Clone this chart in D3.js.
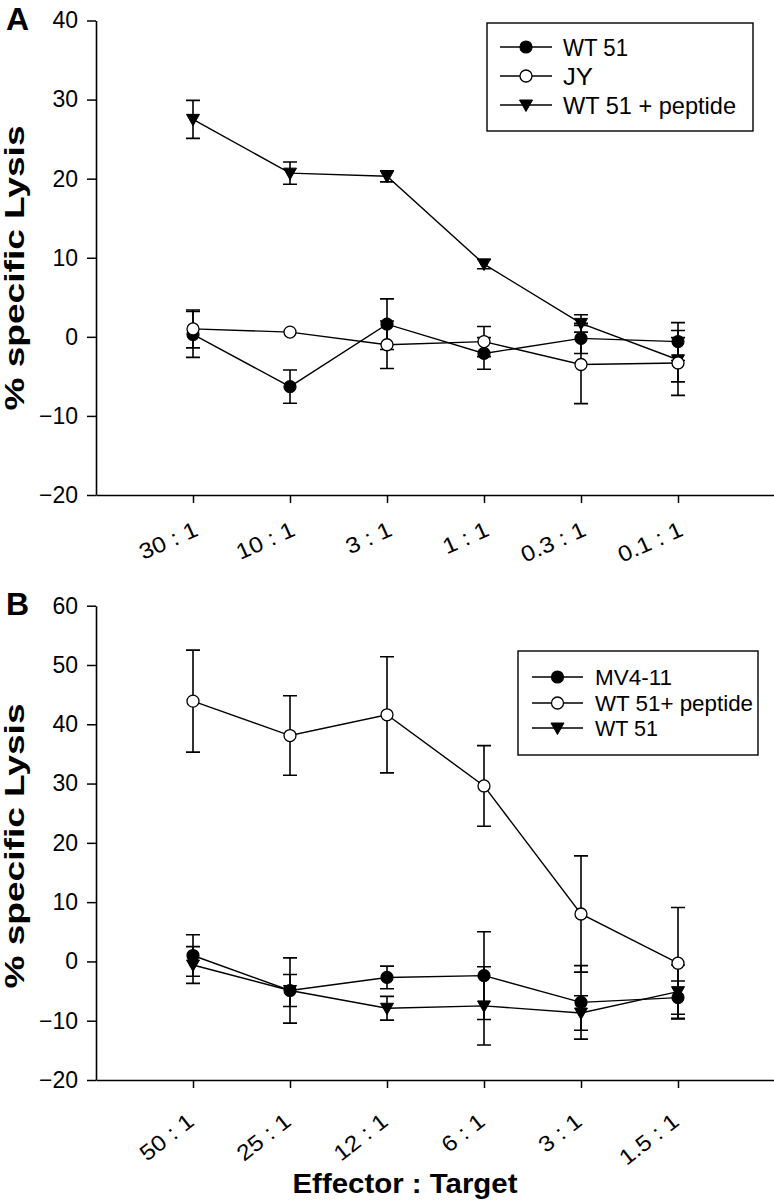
<!DOCTYPE html>
<html><head><meta charset="utf-8">
<script src="https://cdn.jsdelivr.net/npm/d3@7"></script>
<style>body{margin:0;background:#fff}svg{display:block;font-family:"Liberation Sans",Arial,sans-serif}</style>
</head><body>
<script>
// ---- Data ----
const catsA = ["30 : 1","10 : 1","3 : 1","1 : 1","0.3 : 1","0.1 : 1"];
const wt51A = [0.3, -6.3, 1.6, -2.1, -0.2, -0.6];
const wt51AErr = [2.9, 2.1, 3.2, 2.0, 1.9, 2.4];
const jyA = [1.0, 0.6, -1.0, -0.6, -3.5, -3.3];
const jyAErr = [2.4, 0.0, 3.0, 1.9, 4.95, 4.1];
const pepA = [27.5, 20.7, 20.3, 9.2, 1.7, -2.9];
const pepAErr = [2.4, 1.4, 0.7, 0.6, 1.1, 2.8];
const ticksA = [-20, -10, 0, 10, 20, 30, 40];

const catsB = ["50 : 1","25 : 1","12 : 1","6 : 1","3 : 1","1.5 : 1"];
const mvB = [1.0, -4.9, -2.7, -2.4, -6.9, -6.1];
const mvBErr = [3.5, 5.5, 1.9, 7.4, 6.2, 2.8];
const pepB = [43.9, 38.1, 41.6, 29.6, 8.0, -0.3];
const pepBErr = [8.6, 6.7, 9.8, 6.8, 9.8, 9.4];
const wtB = [-0.6, -4.9, -7.9, -7.5, -8.7, -5.1];
const wtBErr = [3.1, 2.7, 2.0, 6.6, 2.9, 4.5];
const ticksB = [-20, -10, 0, 10, 20, 30, 40, 50, 60];

const FONT = "Liberation Sans, Arial, sans-serif";
const svg = d3.select("body").append("svg").attr("width", 774).attr("height", 1200).attr("font-family", FONT);

function marker(g, type, x, y) {
  if (type === "filled") g.append("circle").attr("cx", x).attr("cy", y).attr("r", 6).attr("fill", "#000").attr("stroke", "#000").attr("stroke-width", 1.2);
  else if (type === "open") g.append("circle").attr("cx", x).attr("cy", y).attr("r", 6).attr("fill", "#fff").attr("stroke", "#000").attr("stroke-width", 1.3);
  else g.append("path").attr("d", `M${x-6.5},${y-5}L${x+6.5},${y-5}L${x},${y+6.5}Z`).attr("fill", "#000").attr("stroke", "#000").attr("stroke-width", 1);
}

function panel(opt) {
  const x = d3.scaleLinear().domain([0, 7]).range([96, 775]);
  const y = d3.scaleLinear().domain(opt.yDomain).range(opt.yRange);
  const g = svg.append("g");
  // y axis
  const ya = g.append("g").attr("transform", "translate(96,0)")
    .call(d3.axisLeft(y).tickValues(opt.yTicks).tickSize(9).tickSizeOuter(0).tickPadding(9).tickFormat(d3.format("d")));
  ya.attr("font-family", FONT).attr("font-size", 23);
  ya.selectAll("text").attr("font-size", 23).attr("fill", "#000");
  ya.select(".domain").attr("stroke-width", 1.6);
  ya.selectAll(".tick line").attr("stroke-width", 1.5);
  // x axis
  const xa = g.append("g").attr("transform", `translate(0,${opt.yRange[0]})`)
    .call(d3.axisBottom(x).tickValues(d3.range(1, 7)).tickSize(8).tickSizeOuter(0).tickFormat(i => opt.cats[i - 1]));
  xa.attr("font-family", FONT).attr("font-size", 22);
  xa.select(".domain").attr("stroke-width", 1.6);
  xa.selectAll(".tick line").attr("stroke-width", 1.5);
  xa.selectAll("text").attr("font-size", 22).attr("fill", "#000")
    .attr("text-anchor", "end").attr("dy", null).attr("y", 0)
    .attr("transform", `translate(${opt.lx},${opt.ly}) rotate(${opt.rot}) scale(1.12,1)`);
  // series
  opt.series.forEach(s => {
    const line = d3.line().x((d, i) => x(i + 1)).y(d => y(d));
    g.append("path").datum(s.vals).attr("d", line).attr("fill", "none").attr("stroke", "#000").attr("stroke-width", 1.4);
  });
  opt.series.forEach(s => {
    s.vals.forEach((v, i) => {
      const e = s.err[i];
      if (e <= 0) return;
      const cx = x(i + 1);
      g.append("path").attr("d", `M${cx},${y(v - e)}V${y(v + e)}M${cx - 7},${y(v + e)}H${cx + 7}M${cx - 7},${y(v - e)}H${cx + 7}`)
        .attr("stroke", "#000").attr("stroke-width", 1.6).attr("fill", "none");
    });
  });
  opt.series.forEach(s => s.vals.forEach((v, i) => marker(g, s.type, x(i + 1), y(v))));
  // y title
  g.append("text").attr("transform", `translate(24,${opt.titleMid}) rotate(-90)`).attr("text-anchor", "middle")
    .attr("font-size", 28).attr("font-weight", "bold").attr("textLength", 285).attr("lengthAdjust", "spacingAndGlyphs")
    .text("% specific Lysis");
  // panel letter
  g.append("text").attr("x", 6).attr("y", opt.letterY).attr("font-size", 32).attr("font-weight", "bold").text(opt.letter);
  // legend
  const L = opt.legend;
  g.append("rect").attr("x", L.x).attr("y", L.y).attr("width", L.w).attr("height", L.h).attr("fill", "#fff").attr("stroke", "#000").attr("stroke-width", 1.4);
  L.items.forEach((it, k) => {
    const yy = L.rows[k];
    g.append("line").attr("x1", L.lx1).attr("x2", L.lx2).attr("y1", yy).attr("y2", yy).attr("stroke", "#000").attr("stroke-width", 1.4);
    marker(g, it.type, (L.lx1 + L.lx2) / 2, yy);
    g.append("text").attr("x", L.tx).attr("y", yy + L.fs * 0.36).attr("font-size", L.fs)
      .attr("textLength", L.tl[k]).attr("lengthAdjust", "spacingAndGlyphs").text(it.label);
  });
}

panel({
  cats: catsA, yDomain: [-20, 40], yRange: [495, 20.5], yTicks: ticksA,
  lx: 6, ly: 40, rot: -24, titleMid: 268, letter: "A", letterY: 30,
  series: [
    {vals: pepA, err: pepAErr, type: "tri"},
    {vals: wt51A, err: wt51AErr, type: "filled"},
    {vals: jyA, err: jyAErr, type: "open"}
  ],
  legend: {x: 487, y: 23, w: 266, h: 108, lx1: 500, lx2: 552, tx: 563, fs: 24, rows: [47, 76, 105], tl: [65, 30, 173],
    items: [{type: "filled", label: "WT 51"}, {type: "open", label: "JY"}, {type: "tri", label: "WT 51 + peptide"}]}
});

panel({
  cats: catsB, yDomain: [-20, 60], yRange: [1080, 605.7], yTicks: ticksB,
  lx: 2, ly: 44, rot: -38, titleMid: 846, letter: "B", letterY: 615,
  series: [
    {vals: pepB, err: pepBErr, type: "open"},
    {vals: mvB, err: mvBErr, type: "filled"},
    {vals: wtB, err: wtBErr, type: "tri"}
  ],
  legend: {x: 518, y: 651, w: 240, h: 104, lx1: 532, lx2: 583, tx: 595, fs: 22, rows: [677, 703, 728], tl: [77, 158, 63],
    items: [{type: "filled", label: "MV4-11"}, {type: "open", label: "WT 51+ peptide"}, {type: "tri", label: "WT 51"}]}
});

svg.append("text").attr("x", 405).attr("y", 1193).attr("text-anchor", "middle").attr("font-size", 28).attr("font-weight", "bold")
  .attr("textLength", 225).attr("lengthAdjust", "spacingAndGlyphs").text("Effector : Target");
</script>
</body></html>
